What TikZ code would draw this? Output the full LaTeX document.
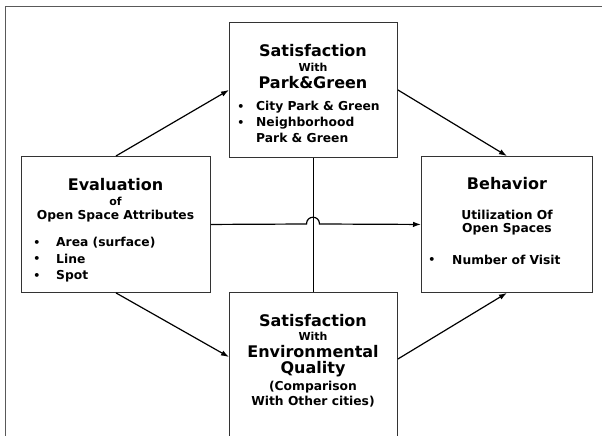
\documentclass[tikz,border=0pt]{standalone}
\usepackage{fontspec}
\setmainfont{DejaVu Sans}
\usetikzlibrary{arrows.meta}
\begin{document}
\begin{tikzpicture}[x=1pt,y=-1pt,
  box/.style={draw=black!80,line width=0.9pt,rectangle,inner sep=0pt,anchor=north west},
  big/.style={font=\fontsize{16}{18}\selectfont\bfseries,inner sep=0pt},
  mid/.style={font=\fontsize{12.3}{14}\selectfont\bfseries,inner sep=0pt},
  sml/.style={font=\fontsize{11}{13}\selectfont\bfseries,inner sep=0pt},
  itm/.style={font=\fontsize{12.3}{14}\selectfont\bfseries,inner sep=0pt,anchor=west},
  bul/.style={font=\fontsize{11}{13}\selectfont\bfseries,inner sep=0pt},
  conn/.style={black,line width=1.2pt},
  arr/.style={conn,-{Latex[length=8pt,width=5.5pt]}},
  frame/.style={black!65,line width=1.5pt}]
\useasboundingbox (0,0) rectangle (602,436);
% frame
\draw[frame] (602,6.5) -- (5.5,6.5) -- (5.5,436);
% boxes
\node[box,minimum width=168pt,minimum height=135pt] (T) at (229,22) {};
\node[box,minimum width=189pt,minimum height=136pt] (L) at (21,156) {};
\node[box,minimum width=171pt,minimum height=136pt] (R) at (421,156) {};
\node[box,minimum width=168pt,minimum height=170pt] (B) at (229,292) {};
% top box text
\node[big] (t1) at (313,51) {Satisfaction};
\node[sml] (t2) at (313,67) {With};
\node[big] (t3) at (313,83) {Park\&Green};
\node[bul] (tb1) at (241,107) {•};
\node[itm] (ti1) at (256,107) {City Park \& Green};
\node[bul] (tb2) at (241,123) {•};
\node[itm] (ti2) at (256,123) {Neighborhood};
\node[itm] (ti3) at (256,138) {Park \& Green};
% left box text
\node[big] (l1) at (115.5,185) {Evaluation};
\node[sml] (l2) at (115.5,201) {of};
\node[mid] (l3) at (115.5,216) {Open Space Attributes};
\node[bul] (lb1) at (37,243) {•};
\node[itm] (li1) at (56,243) {Area (surface)};
\node[bul] (lb2) at (37,259) {•};
\node[itm] (li2) at (56,259) {Line};
\node[bul] (lb3) at (37,276) {•};
\node[itm] (li3) at (56,276) {Spot};
% right box text
\node[big] (r1) at (507,184) {Behavior};
\node[mid] (r2) at (507,215) {Utilization Of};
\node[mid] (r3) at (507,229) {Open Spaces};
\node[bul] (rb1) at (432,260) {•};
\node[itm] (ri1) at (452,260) {Number of Visit};
% bottom box text
\node[big] (b1) at (313,321) {Satisfaction};
\node[sml] (b2) at (313,336) {With};
\node[big] (b3) at (313,352) {Environmental};
\node[big] (b4) at (313,369) {Quality};
\node[mid] (b5) at (313,387) {(Comparison};
\node[mid] (b6) at (313,402) {With Other cities)};
% connectors
\draw[arr] (L.north) -- (T.west);
\draw[arr] (T.east) -- (R.north);
\draw[arr] (L.south) -- ([yshift=-65pt]B.north west);
\draw[arr] ([yshift=-67pt]B.north east) -- (R.south);
\draw[conn] (T.south) -- (B.north);
\coordinate (h1) at (306.5,224);
\coordinate (h2) at (319.5,224);
\draw[arr] (L.east) -- (h1) .. controls (306.5,215) and (319.5,215) .. (h2) -- (R.west);
\end{tikzpicture}
\end{document}
